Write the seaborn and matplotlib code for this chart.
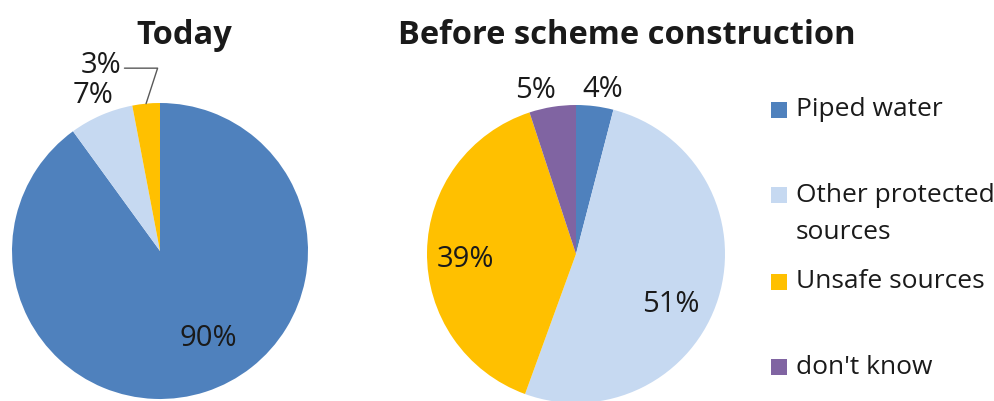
import numpy as np
import matplotlib
matplotlib.use("Agg")
import matplotlib.pyplot as plt
from matplotlib.patches import Rectangle
import seaborn as sns

# Source categories and shares (%)
categories = ["Piped water", "Other protected\nsources", "Unsafe sources", "don't know"]
today_values = [90, 7, 3]
before_values = [4, 51, 39, 5]
titles = ["Today", "Before scheme construction"]

colors = ["#4F81BD", "#C6D9F1", "#FFC000", "#8064A2"]
text_color = "#1a1a1a"

sns.set_theme(style="white")
plt.rcParams["font.family"] = ["Open Sans", "DejaVu Sans"]

W, H = 995, 401
fig = plt.figure(figsize=(W / 100, H / 100), dpi=100)
fig.patch.set_facecolor("white")

LABEL_FS = 21
TITLE_FS = 23.5
LEGEND_FS = 19


def axes_px(cx, cy, r):
    """Axes whose unit circle has centre (cx, cy) and radius r in pixels (y from top)."""
    return fig.add_axes([(cx - r) / W, (H - cy - r) / H, 2 * r / W, 2 * r / H])


def draw_pie(ax, values):
    wedges, _ = ax.pie(values, colors=colors[:len(values)], startangle=90,
                       counterclock=False, radius=1.0,
                       wedgeprops=dict(linewidth=0))
    ax.set_xlim(-1, 1)
    ax.set_ylim(-1, 1)
    ax.set_aspect("equal")
    ax.axis("off")
    return wedges


def mid_angle(w):
    return np.deg2rad((w.theta1 + w.theta2) / 2)


def place(ax, w, text, r, nudge=0.0):
    a = mid_angle(w) + np.deg2rad(nudge)
    ax.text(r * np.cos(a), r * np.sin(a), text, ha="center", va="center",
            fontsize=LABEL_FS, color=text_color, clip_on=False)


# Left pie: today
ax1 = axes_px(160, 251, 148)
w1 = draw_pie(ax1, today_values)
place(ax1, w1[0], f"{today_values[0]}%", 0.675, nudge=11)
place(ax1, w1[1], f"{today_values[1]}%", 1.145)
a3 = mid_angle(w1[2])
ax1.annotate(f"{today_values[2]}%", xy=(np.cos(a3), np.sin(a3)),
             xytext=(-0.40, 1.255), textcoords="data", ha="center", va="center",
             fontsize=LABEL_FS, color=text_color, annotation_clip=False,
             arrowprops=dict(arrowstyle="-", color="#595959", lw=1.0,
                             shrinkA=0, shrinkB=0,
                             connectionstyle="angle,angleA=0,angleB=72,rad=0",
                             relpos=(1.0, 0.4)))

# Right pie: before scheme construction
ax2 = axes_px(576, 254, 149)
w2 = draw_pie(ax2, before_values)
place(ax2, w2[0], f"{before_values[0]}%", 1.12, nudge=-2)
place(ax2, w2[1], f"{before_values[1]}%", 0.72, nudge=-11)
place(ax2, w2[2], f"{before_values[2]}%", 0.745, nudge=3.5)
place(ax2, w2[3], f"{before_values[3]}%", 1.13, nudge=4.7)

# Titles
fig.text(184 / W, 1 - 35 / H, titles[0], ha="center", va="center",
         fontsize=TITLE_FS, fontweight="bold", color=text_color)
fig.text(627 / W, 1 - 35 / H, titles[1], ha="center", va="center",
         fontsize=TITLE_FS, fontweight="bold", color=text_color)

# Legend: coloured squares with labels; wrapped labels continue on a second line
leg_y = [110, 195, 282, 367]
for label, col, y in zip(categories, colors, leg_y):
    fig.patches.append(Rectangle((771 / W, 1 - (y + 8) / H), 16 / W, 16 / H,
                                 transform=fig.transFigure, facecolor=col,
                                 edgecolor="none"))
    for i, line in enumerate(label.split("\n")):
        fig.text(796 / W, 1 - (y + i * 37) / H, line, ha="left", va="center",
                 fontsize=LEGEND_FS, color=text_color)

fig.savefig("out.png", dpi=100, facecolor="white")
